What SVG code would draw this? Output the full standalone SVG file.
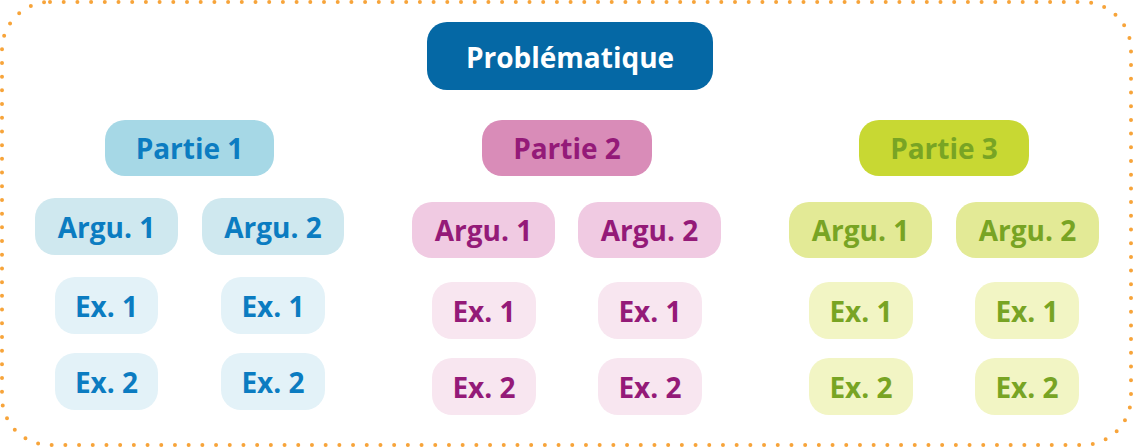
<svg xmlns="http://www.w3.org/2000/svg" width="1134" height="448" viewBox="0 0 1134 448">
<style>
text{font-family:"Open Sans","Liberation Sans",sans-serif;font-weight:700;font-size:28px;text-anchor:middle;dominant-baseline:central}
.t0{fill:#ffffff}
.b1{fill:#0b7cc1}.b2{fill:#941a78}.b3{fill:#78a424}
</style>
<rect x="2" y="2" width="1129" height="443" rx="48" fill="none" stroke="#f7a43a" stroke-width="4" stroke-linecap="round" stroke-dasharray="0 13.7"/>
<g id="connectors"/>
<g id="problematique"><rect x="427" y="22" width="286" height="68" rx="20" fill="#0568a5"/><text class="t0" x="570" y="57">Problématique</text></g>
<g id="partie1"><rect x="105" y="120" width="169" height="56" rx="20" fill="#a6d8e6"/><text class="b1" x="189.5" y="148">Partie 1</text></g>
<g id="p1a1"><rect x="35" y="198" width="143" height="57" rx="20" fill="#cfe8ef"/><text class="b1" x="106.5" y="226.5">Argu. 1</text></g>
<g id="p1a2"><rect x="202" y="198" width="142" height="57" rx="20" fill="#cfe8ef"/><text class="b1" x="273" y="226.5">Argu. 2</text></g>
<g id="p1e11"><rect x="55" y="277" width="103" height="57" rx="20" fill="#e3f2f8"/><text class="b1" x="106.5" y="305.5">Ex. 1</text></g>
<g id="p1e21"><rect x="221" y="277" width="104" height="57" rx="20" fill="#e3f2f8"/><text class="b1" x="273" y="305.5">Ex. 1</text></g>
<g id="p1e12"><rect x="55" y="353" width="103" height="57" rx="20" fill="#e3f2f8"/><text class="b1" x="106.5" y="381.5">Ex. 2</text></g>
<g id="p1e22"><rect x="221" y="353" width="104" height="57" rx="20" fill="#e3f2f8"/><text class="b1" x="273" y="381.5">Ex. 2</text></g>
<g id="partie2"><rect x="482" y="120" width="170" height="56" rx="20" fill="#d98cb8"/><text class="b2" x="567" y="148">Partie 2</text></g>
<g id="p2a1"><rect x="412" y="202" width="143" height="56" rx="20" fill="#f0cae2"/><text class="b2" x="483.5" y="230">Argu. 1</text></g>
<g id="p2a2"><rect x="578" y="202" width="143" height="56" rx="20" fill="#f0cae2"/><text class="b2" x="649.5" y="230">Argu. 2</text></g>
<g id="p2e11"><rect x="432" y="282" width="104" height="57" rx="20" fill="#f8e6f0"/><text class="b2" x="484" y="310.5">Ex. 1</text></g>
<g id="p2e21"><rect x="598" y="282" width="104" height="57" rx="20" fill="#f8e6f0"/><text class="b2" x="650" y="310.5">Ex. 1</text></g>
<g id="p2e12"><rect x="432" y="358" width="104" height="57" rx="20" fill="#f8e6f0"/><text class="b2" x="484" y="386.5">Ex. 2</text></g>
<g id="p2e22"><rect x="598" y="358" width="104" height="57" rx="20" fill="#f8e6f0"/><text class="b2" x="650" y="386.5">Ex. 2</text></g>
<g id="partie3"><rect x="859" y="120" width="170" height="56" rx="20" fill="#c8d833"/><text class="b3" x="944" y="148">Partie 3</text></g>
<g id="p3a1"><rect x="789" y="202" width="143" height="56" rx="20" fill="#e3ea96"/><text class="b3" x="860.5" y="230">Argu. 1</text></g>
<g id="p3a2"><rect x="956" y="202" width="143" height="56" rx="20" fill="#e3ea96"/><text class="b3" x="1027.5" y="230">Argu. 2</text></g>
<g id="p3e11"><rect x="809" y="282" width="104" height="57" rx="20" fill="#f2f5c4"/><text class="b3" x="861" y="310.5">Ex. 1</text></g>
<g id="p3e21"><rect x="975" y="282" width="104" height="57" rx="20" fill="#f2f5c4"/><text class="b3" x="1027" y="310.5">Ex. 1</text></g>
<g id="p3e12"><rect x="809" y="358" width="104" height="57" rx="20" fill="#f2f5c4"/><text class="b3" x="861" y="386.5">Ex. 2</text></g>
<g id="p3e22"><rect x="975" y="358" width="104" height="57" rx="20" fill="#f2f5c4"/><text class="b3" x="1027" y="386.5">Ex. 2</text></g>
</svg>
